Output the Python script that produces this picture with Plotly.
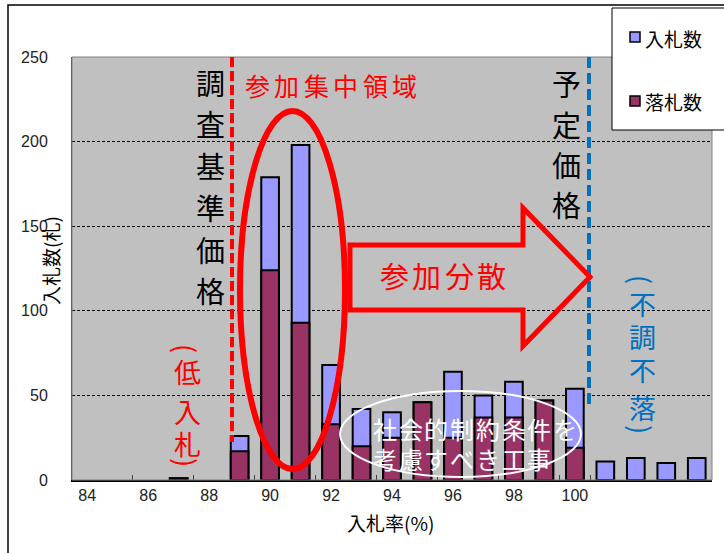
import plotly.graph_objects as go

# ---------------- data ----------------
rates = ["84", "85", "86", "87", "88", "89", "90", "91", "92", "93", "94",
         "95", "96", "97", "98", "99", "100", "101", "102", "103", "104"]
bids = [0, 0, 0, 1, 0, 26, 179, 198, 68, 42, 40, 46, 64, 50, 58, 47, 54, 11, 13, 10, 13]
wins = [0, 0, 0, 1, 0, 17, 124, 93, 33, 20, 25, 46, 25, 37, 37, 47, 19, 0, 0, 0, 0]
tick_labels = ["84", "86", "88", "90", "92", "94", "96", "98", "100"]
y_ticks = [0, 50, 100, 150, 200, 250]

W, H = 724, 553
L, R, T, B = 72, 712, 57, 480   # plot area in pixels
JP = "Noto Sans CJK JP"


def px(x):
    return (x - L) / (R - L)


def py(y):
    return (B - y) / (B - T)


def nz(values):
    # empty categories are left undrawn (no zero-height outline)
    return [v if v else None for v in values]


fig = go.Figure()
fig.add_bar(x=rates, y=nz(bids), name="入札数", width=0.58, showlegend=False,
            marker=dict(color="#9999FF", line=dict(color="black", width=2)))
fig.add_bar(x=rates, y=nz(wins), name="落札数", width=0.58, showlegend=False,
            marker=dict(color="#993366", line=dict(color="black", width=2)))

shapes = []
annotations = []

# outer chart frame
shapes.append(dict(type="rect", xref="paper", yref="paper",
                   x0=px(8), x1=px(740), y0=py(5), y1=py(570),
                   line=dict(color="black", width=1.5), fillcolor="rgba(0,0,0,0)", layer="below"))
# plot-area border (top/right)
shapes.append(dict(type="rect", xref="paper", yref="paper", x0=0, x1=1, y0=0, y1=1,
                   line=dict(color="#808080", width=1), fillcolor="rgba(0,0,0,0)"))

# red dashed line (調査基準価格)
shapes.append(dict(type="line", xref="paper", yref="paper", x0=px(232), x1=px(232),
                   y0=py(57), y1=py(442), line=dict(color="#FF0000", width=4, dash="10px,4px")))
# blue dashed line (予定価格)
shapes.append(dict(type="line", xref="paper", yref="paper", x0=px(589), x1=px(589),
                   y0=py(57), y1=py(407), line=dict(color="#0070C0", width=4, dash="11px,5px")))
# red ellipse
shapes.append(dict(type="circle", xref="paper", yref="paper", x0=px(240), x1=px(345),
                   y0=py(111), y1=py(469), line=dict(color="#FF0000", width=6)))
# white ellipse
shapes.append(dict(type="circle", xref="paper", yref="paper", x0=px(340), x1=px(581),
                   y0=py(391), y1=py(477), line=dict(color="white", width=2)))
# hollow arrow
pts = [(350, 245), (523, 245), (523, 208), (590, 277), (523, 346), (523, 310), (350, 310)]
path = "M " + " L ".join(f"{px(x):.5f},{py(y):.5f}" for x, y in pts) + " Z"
shapes.append(dict(type="path", xref="paper", yref="paper", path=path,
                   line=dict(color="#FF0000", width=5), fillcolor="rgba(0,0,0,0)"))

# legend box
shapes.append(dict(type="rect", xref="paper", yref="paper", x0=px(612), x1=px(740),
                   y0=py(8), y1=py(130), line=dict(color="black", width=1), fillcolor="white"))
shapes.append(dict(type="rect", xref="paper", yref="paper", x0=px(630), x1=px(640),
                   y0=py(32), y1=py(42), line=dict(color="black", width=1.5), fillcolor="#9999FF"))
shapes.append(dict(type="rect", xref="paper", yref="paper", x0=px(630), x1=px(640),
                   y0=py(96), y1=py(106), line=dict(color="black", width=1.5), fillcolor="#993366"))


def text(s, x, y, size, color, xanchor="center", yanchor="middle", angle=0, bold=False):
    if bold:
        s = f"<b>{s}</b>"
    annotations.append(dict(text=s, x=px(x), y=py(y), xref="paper", yref="paper",
                            showarrow=False, xanchor=xanchor, yanchor=yanchor, textangle=angle,
                            font=dict(family=JP, size=size, color=color)))


def vtext(chars, x, ys, size, color):
    for c, y in zip(chars, ys):
        if c in "()":
            text(c, x, y, size, color, angle=90)
        else:
            text(c, x, y, size, color)


def htext(chars, x0, step, y, size, color):
    for i, c in enumerate(chars):
        text(c, x0 + i * step, y, size, color)


text("入札数", 643, 39, 19, "black", xanchor="left")
text("落札数", 643, 101, 19, "black", xanchor="left")

# title (cut off at top)
text("平成21年度の入札状況", 22, -17, 31, "black", xanchor="left", bold=True)

vtext("調査基準価格", 210, [82, 123, 165, 207, 249, 290], 29, "black")
vtext("予定価格", 566, [83, 124, 164, 204], 29, "black")
vtext("(不調不落)", 642, [279, 303, 336, 369, 407, 429], 27, "#0070C0")
vtext("(低入札)", 187, [348, 371, 411, 443, 462], 27, "#FF0000")
htext("参加集中領域", 257, 29.5, 85, 25, "#FF0000")
htext("参加分散", 394, 32.6, 275, 29, "#FF0000")
htext("社会的制約条件を", 385, 25.7, 428, 24, "white")
htext("考慮すべき工事", 385, 25.7, 458, 24, "white")

# axis titles
text("入札数(札)", 50, 261, 19, "black", angle=-90)
text("入札率(%)", 390, 522, 19, "black")

fig.update_layout(
    width=W, height=H,
    margin=dict(l=L, r=W - R, t=T, b=H - B, autoexpand=False),
    paper_bgcolor="white", plot_bgcolor="#C0C0C0",
    barmode="overlay", bargap=0.4,
    shapes=shapes, annotations=annotations,
    font=dict(family=JP),
    xaxis=dict(type="category", categoryorder="array", categoryarray=rates,
               range=[-0.5, len(rates) - 0.5], automargin=False, tickangle=0,
               tickmode="array", tickvals=tick_labels, ticktext=tick_labels,
               tickson="boundaries", ticks="inside", ticklen=5, tickcolor="#404040",
               showline=True, linecolor="black", linewidth=2, showgrid=False,
               tickfont=dict(family="Liberation Sans", size=16, color="#222")),
    yaxis=dict(range=[0, 250], tickvals=y_ticks, showgrid=True, gridcolor="black",
               gridwidth=1, griddash="3px,2px", zeroline=False, automargin=False,
               showline=True, linecolor="#404040", linewidth=1, ticks="",
               ticklabelstandoff=20,
               tickfont=dict(family="Liberation Sans", size=16, color="#222")),
)

fig.write_html("out.html", config={"displayModeBar": False},
               post_script="document.body.style.margin='0';document.body.style.overflow='hidden';")
